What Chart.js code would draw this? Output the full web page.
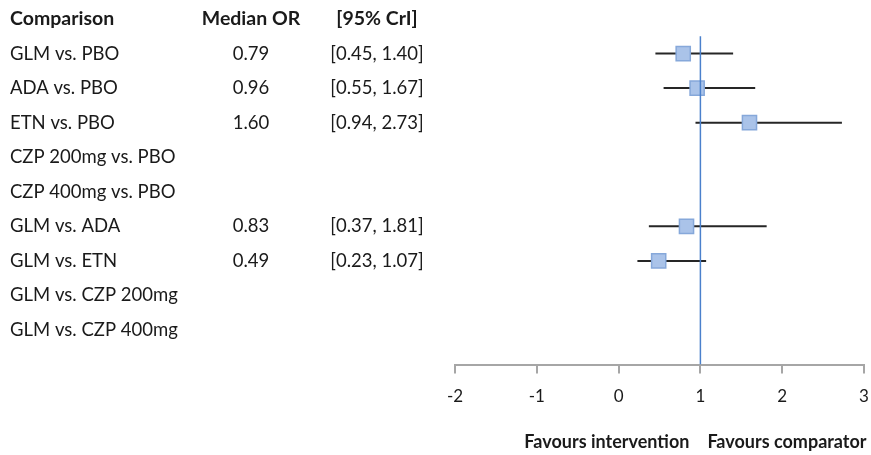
<!DOCTYPE html>
<html>
<head>
<meta charset="utf-8">
<script src="https://cdn.jsdelivr.net/npm/chart.js@4/dist/chart.umd.min.js"></script>
<style>
  html, body { margin: 0; padding: 0; background: #fff; }
  #wrap { width: 871px; height: 455px; }
</style>
</head>
<body>
<div id="wrap"><canvas id="forest" width="871" height="455"></canvas></div>
<script>
// Table columns and forest-plot values
const headers = ['Comparison', 'Median OR', '[95% CrI]'];
const comparisons = [
  'GLM vs. PBO', 'ADA vs. PBO', 'ETN vs. PBO',
  'CZP 200mg vs. PBO', 'CZP 400mg vs. PBO',
  'GLM vs. ADA', 'GLM vs. ETN',
  'GLM vs. CZP 200mg', 'GLM vs. CZP 400mg'
];
const medianOR = [0.79, 0.96, 1.60, null, null, 0.83, 0.49, null, null];
const lowerCrI = [0.45, 0.55, 0.94, null, null, 0.37, 0.23, null, null];
const upperCrI = [1.40, 1.67, 2.73, null, null, 1.81, 1.07, null, null];
const xTicks = [-2, -1, 0, 1, 2, 3];
const noEffect = 1;
const sideLabels = ['Favours intervention', 'Favours comparator'];

const FONT = 'Lato, "Open Sans", sans-serif';
const TEXT = '#1a1a1a';

// Confidence-interval whiskers, one line per comparison with an estimate
const whiskers = [];
comparisons.forEach((c, i) => {
  if (medianOR[i] === null) return;
  whiskers.push({
    label: c,
    data: [{ x: lowerCrI[i], y: i }, { x: upperCrI[i], y: i }],
    showLine: true,
    borderColor: '#262626',
    borderWidth: 2,
    pointRadius: 0,
    order: 3
  });
});

const points = {
  label: 'Median OR',
  data: comparisons.map((c, i) => medianOR[i] === null ? null : { x: medianOR[i], y: i }).filter(p => p),
  pointStyle: 'rect',
  pointRadius: 10,
  pointBackgroundColor: '#aac3e9',
  pointBorderColor: '#86a8da',
  pointBorderWidth: 1.5,
  showLine: false,
  order: 2
};

const refLine = {
  label: 'No effect',
  data: [{ x: noEffect, y: -0.5 }, { x: noEffect, y: comparisons.length }],
  showLine: true,
  borderColor: '#4a80cc',
  borderWidth: 1.5,
  pointRadius: 0,
  order: 1
};

// Text table drawn alongside the rows of the plot
const tablePlugin = {
  id: 'forestTable',
  afterDraw(chart) {
    const ctx = chart.ctx;
    const ys = chart.scales.y;
    const xs = chart.scales.x;
    const colX = [10, 251, 377];
    ctx.save();
    ctx.fillStyle = TEXT;
    ctx.textBaseline = 'middle';
    // header row
    ctx.font = 'bold 19.5px ' + FONT;
    const hy = ys.getPixelForValue(-1);
    ctx.textAlign = 'left';
    ctx.fillText(headers[0], colX[0], hy);
    ctx.textAlign = 'center';
    ctx.fillText(headers[1], colX[1], hy);
    ctx.fillText(headers[2], colX[2], hy);
    // body rows
    ctx.font = '18.5px ' + FONT;
    comparisons.forEach((c, i) => {
      const y = ys.getPixelForValue(i);
      ctx.textAlign = 'left';
      ctx.fillText(c, colX[0], y);
      if (medianOR[i] !== null) {
        ctx.textAlign = 'center';
        ctx.fillText(medianOR[i].toFixed(2), colX[1], y);
        ctx.fillText('[' + lowerCrI[i].toFixed(2) + ', ' + upperCrI[i].toFixed(2) + ']', colX[2], y);
      }
    });
    // direction labels under the axis
    ctx.font = 'bold 18px ' + FONT;
    const x1 = xs.getPixelForValue(noEffect);
    ctx.textAlign = 'right';
    ctx.fillText(sideLabels[0], x1 - 11, 442);
    ctx.textAlign = 'left';
    ctx.fillText(sideLabels[1], x1 + 7, 442);
    ctx.restore();
  }
};

new Chart(document.getElementById('forest'), {
  type: 'scatter',
  data: { datasets: [...whiskers, points, refLine] },
  options: {
    responsive: false,
    animation: false,
    layout: { autoPadding: false, padding: { left: 455, right: 7, top: 19, bottom: 35 } },
    plugins: { legend: { display: false }, tooltip: { enabled: false } },
    scales: {
      x: {
        type: 'linear',
        min: xTicks[0],
        max: xTicks[xTicks.length - 1],
        afterBuildTicks(scale) { scale.ticks = xTicks.map(v => ({ value: v })); },
        afterFit(scale) { scale.paddingLeft = 0; scale.paddingRight = 0; },
        border: { display: true, color: '#a6a6a6', width: 2 },
        grid: { display: true, drawOnChartArea: false, drawTicks: true, tickLength: 9, color: '#a6a6a6', lineWidth: 2 },
        ticks: { color: TEXT, font: { family: FONT, size: 17 }, padding: 13, maxRotation: 0 }
      },
      y: {
        type: 'linear',
        reverse: true,
        min: -1,
        max: comparisons.length,
        display: false
      }
    }
  },
  plugins: [tablePlugin]
});
</script>
</body>
</html>
